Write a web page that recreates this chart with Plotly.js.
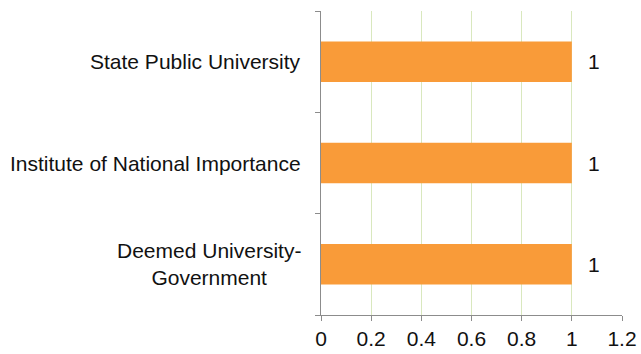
<!DOCTYPE html>
<html>
<head>
<meta charset="utf-8">
<script src="https://cdn.plot.ly/plotly-3.0.1.min.js"></script>
<style>html,body{margin:0;padding:0;background:#fff;}#chart{width:641px;height:354px;}</style>
</head>
<body>
<div id="chart"></div>
<script>
var categories = ["Deemed University-<br>Government", "Institute of National Importance", "State Public University"];
var values = [1, 1, 1];
var xTickValues = [0, 0.2, 0.4, 0.6, 0.8, 1, 1.2];
var xTickLabels = ["0", "0.2", "0.4", "0.6", "0.8", "1", "1.2"];

var FONT = "Liberation Sans, Arial, sans-serif";
var idx = categories.map(function(_, i){ return i; });

var trace = {
  type: "bar",
  orientation: "h",
  y: categories,
  x: values,
  marker: {color: "#F99B39"},
  width: 0.4,
  hoverinfo: "none"
};

var annotations = [];
categories.forEach(function(c, i){
  annotations.push({
    xref: "paper", yref: "y", x: 0, y: i,
    xanchor: "right", yanchor: "middle", xshift: -18,
    text: c, showarrow: false, align: "center",
    font: {family: FONT, size: 21, color: "#111"}
  });
  annotations.push({
    xref: "x", yref: "y", x: values[i], y: i,
    xanchor: "left", yanchor: "middle", xshift: 14,
    text: String(values[i]), showarrow: false,
    font: {family: FONT, size: 21, color: "#111"}
  });
});

var layout = {
  width: 641, height: 354,
  margin: {l: 321, r: 19, t: 11, b: 39},
  paper_bgcolor: "#fff", plot_bgcolor: "#fff",
  showlegend: false,
  font: {family: FONT, size: 21, color: "#111"},
  xaxis: {
    range: [0, 1.2],
    tickvals: xTickValues, ticktext: xTickLabels,
    showgrid: true, gridcolor: "#D9E8BE", gridwidth: 1,
    zeroline: false,
    showline: true, linecolor: "#8C8C8C", linewidth: 1,
    ticks: "outside", ticklen: 5, tickcolor: "#8C8C8C",
    tickfont: {family: FONT, size: 21, color: "#111"},
    fixedrange: true
  },
  yaxis: {
    type: "category",
    categoryorder: "array", categoryarray: categories,
    range: [-0.5, categories.length - 0.5],
    showticklabels: false,
    tickson: "boundaries",
    showgrid: false, zeroline: false,
    showline: true, linecolor: "#8C8C8C", linewidth: 1,
    ticks: "outside", ticklen: 5, tickcolor: "#8C8C8C",
    fixedrange: true
  },
  annotations: annotations
};

Plotly.newPlot("chart", [trace], layout, {displayModeBar: false, staticPlot: true});
</script>
</body>
</html>
